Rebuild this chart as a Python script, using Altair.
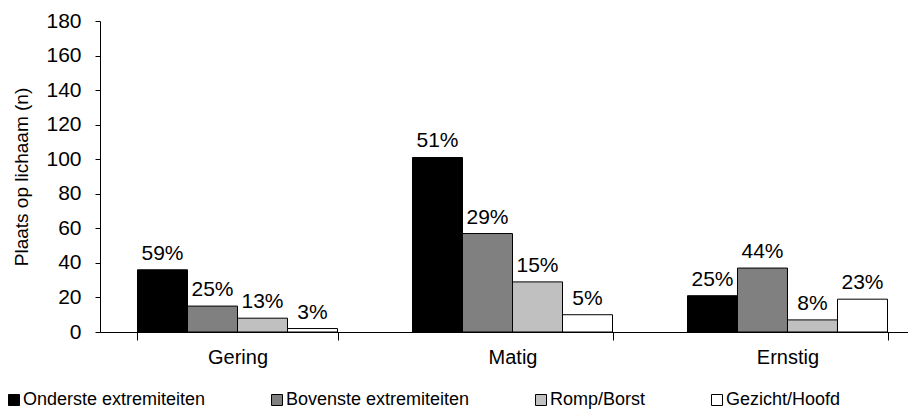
import altair as alt
import pandas as pd

categories = ["Gering", "Matig", "Ernstig"]
series = ["Onderste extremiteiten", "Bovenste extremiteiten", "Romp/Borst", "Gezicht/Hoofd"]
values = {
    "Onderste extremiteiten": [36, 101, 21],
    "Bovenste extremiteiten": [15, 57, 37],
    "Romp/Borst": [8, 29, 7],
    "Gezicht/Hoofd": [2, 10, 19],
}
labels = {
    "Onderste extremiteiten": ["59%", "51%", "25%"],
    "Bovenste extremiteiten": ["25%", "29%", "44%"],
    "Romp/Borst": ["13%", "15%", "8%"],
    "Gezicht/Hoofd": ["3%", "5%", "23%"],
}
y_ticks = [0, 20, 40, 60, 80, 100, 120, 140, 160, 180]
colors = ["#000000", "#808080", "#c0c0c0", "#ffffff"]

rows = []
for s in series:
    for i, c in enumerate(categories):
        rows.append({"cat": c, "series": s, "value": values[s][i], "label": labels[s][i]})
df = pd.DataFrame(rows)

FONT = "Liberation Sans, Arial, sans-serif"

xenc = alt.X("cat:N", sort=categories, title=None,
             scale=alt.Scale(range=[0, 825], paddingInner=0.2727, paddingOuter=0.13636),
             axis=alt.Axis(labelAngle=0, tickBand="extent", tickSize=8, tickColor="black",
                           domainColor="black", labelPadding=7, labelFontSize=20,
                           labelColor="black", labelFont=FONT))
xoff = alt.XOffset("series:N", sort=series, scale=alt.Scale(paddingInner=0, paddingOuter=0))
yenc = alt.Y("value:Q", title="Plaats op lichaam (n)",
             scale=alt.Scale(domain=[0, 180], nice=False, zero=True),
             axis=alt.Axis(values=y_ticks, tickCount=10, grid=False, tickSize=5,
                           tickColor="black", domainColor="black", labelPadding=14,
                           labelOverlap=False, labelFontSize=21, labelColor="black",
                           labelFont=FONT, titleFont=FONT, titleFontSize=19,
                           titleFontWeight="normal", titleColor="black", titlePadding=14))

base = alt.Chart(df).encode(x=xenc, xOffset=xoff, y=yenc)

bars = base.mark_bar(stroke="black", strokeWidth=1).encode(
    fill=alt.Fill("series:N", sort=series,
                  scale=alt.Scale(domain=series, range=colors),
                  legend=alt.Legend(title=None, orient="none", direction="horizontal",
                                    legendX=-95, legendY=370, columns=4, columnPadding=62,
                                    symbolType="square", symbolSize=121,
                                    symbolStrokeColor="black", symbolStrokeWidth=1,
                                    labelFont=FONT, labelFontSize=18, labelColor="black",
                                    labelOffset=0, labelLimit=300)),
)

text = base.mark_text(baseline="alphabetic", dy=-10, font=FONT, fontSize=21, color="black").encode(
    text="label:N",
)

chart = (bars + text).properties(
    width=808, height=311,
    autosize=alt.AutoSizeParams(type="none"),
    padding={"left": 92, "top": 13, "right": 0, "bottom": 77},
).configure_view(stroke=None)

chart.save("out.html", embed_options={"renderer": "svg", "actions": False})
